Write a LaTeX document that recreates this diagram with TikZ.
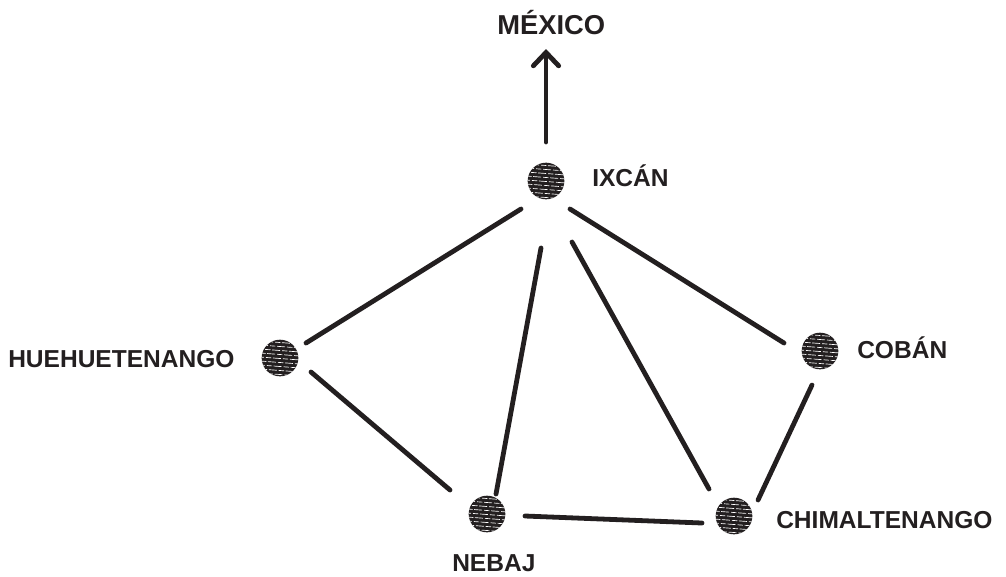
\documentclass[tikz,border=0pt]{standalone}
\usepackage{fontspec}
\setmainfont{Liberation Sans}
\usetikzlibrary{calc,arrows.meta}
\definecolor{ink}{HTML}{231F20}
\tikzset{
  town/.style={circle, fill=ink, minimum size=27.5pt, inner sep=0pt},
  lbl/.style={font=\fontsize{18.4pt}{20pt}\selectfont\bfseries, text=ink, inner sep=0pt, anchor=base west},
  road/.style={draw=ink, line width=3.6pt, line cap=round},
}
\begin{document}
\begin{tikzpicture}[x=0.75pt,y=-0.75pt]
\useasboundingbox (0,0) rectangle (1006,576);
\node[town] (ix) at (546,181) {};
\node[town] (hu) at (280,358) {};
\node[town] (co) at (820,351) {};
\node[town] (ne) at (487,514) {};
\node[town] (ch) at (734,516) {};
\foreach \n in {ix,hu,co,ne,ch}{
  \begin{scope}
    \clip (\n) circle (13.75pt);
    \foreach \k in {-4,...,4}{
      \pgfmathsetmacro{\ph}{mod(\k*3.7+11,8)}
      \draw[white, line width=0.5pt, dash pattern=on 6pt off 1.5pt on 4pt off 1.2pt, dash phase=\ph pt]
        ($(\n)+(-20,\k*4-1)$) -- ($(\n)+(20,\k*4+2)$);
    }
  \end{scope}
}
\node[lbl, font=\fontsize{20.5pt}{23pt}\selectfont\bfseries] (mx) at (497,34) {MÉXICO};
\node[lbl] (lix) at (592,186) {IXCÁN};
\node[lbl] (lhu) at (8,367) {HUEHUETENANGO};
\node[lbl] (lco) at (857,358) {COBÁN};
\node[lbl] (lne) at (452,571) {NEBAJ};
\node[lbl] (lch) at (776,528) {CHIMALTENANGO};
\coordinate (tip) at (546,49);
\draw[road, -{Straight Barb[length=10pt,width=19pt,line width=3.6pt, line cap=round]}] ($(ix)+(0,-39)$) -- (tip);
\draw[road] ($(ix)+(-25,28)$) -- ($(hu)+(26,-15)$);
\draw[road] ($(hu)+(31,14)$) -- ($(ne)+(-37,-24)$);
\draw[road] ($(ix)+(-5,67)$) -- ($(ne)+(9,-20)$);
\draw[road] ($(ix)+(26,61)$) -- ($(ch)+(-25,-27)$);
\draw[road] ($(ix)+(24,28)$) -- ($(co)+(-36,-8)$);
\draw[road] ($(co)+(-8,34)$) -- ($(ch)+(24,-16)$);
\draw[road] ($(ne)+(38,2)$) -- ($(ch)+(-32,7)$);
\end{tikzpicture}
\end{document}
